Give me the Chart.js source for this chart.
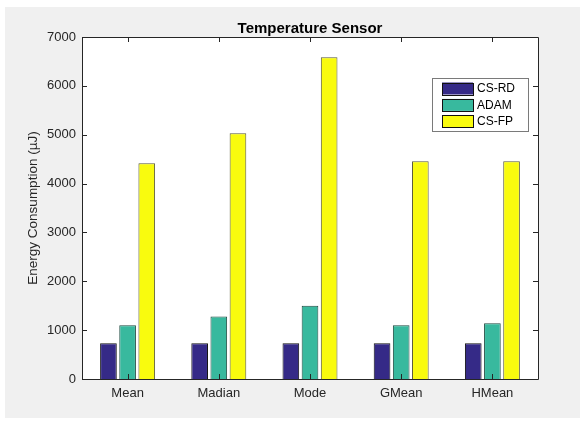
<!DOCTYPE html>
<html>
<head>
<meta charset="utf-8">
<script src="https://cdn.jsdelivr.net/npm/chart.js@4.4.1/dist/chart.umd.min.js"></script>
<style>
  html, body { margin: 0; padding: 0; background: #fff; }
  #wrap { position: relative; width: 585px; height: 421px; }
</style>
</head>
<body>
<div id="wrap"><canvas id="myChart" width="585" height="421"></canvas></div>
<script>
// values
const categories = ['Mean', 'Madian', 'Mode', 'GMean', 'HMean'];
const seriesNames = ['CS-RD', 'ADAM', 'CS-FP'];
const csRd = [730, 730, 730, 730, 730];
const adam = [1100, 1280, 1500, 1100, 1140];
const csFp = [4415, 5030, 6585, 4455, 4455];
const yTicks = [0, 1000, 2000, 3000, 4000, 5000, 6000, 7000];

const colors = ['#352a87', '#38b99e', '#f9fb0e'];
const edges = ['#111', '#1d4a40', '#5a5a3a'];
const textColor = '#262626';
const fontFamily = '"Liberation Sans", Arial, sans-serif';

// grey figure background, title, matlab style box with inward ticks, legend
const matlabLook = {
    id: 'matlabLook',
    beforeDraw(chart) {
        const c = chart.ctx;
        c.save();
        c.fillStyle = '#fff';
        c.fillRect(0, 0, chart.width, chart.height);
        c.fillStyle = '#f0f0f0';
        c.fillRect(5, 7, 575, 411);
        const a = chart.chartArea;
        c.fillStyle = '#fff';
        c.fillRect(a.left, a.top, a.right - a.left, a.bottom - a.top);
        c.restore();
    },
    afterDatasetsDraw(chart) {
        const c = chart.ctx;
        const a = chart.chartArea;
        const x = chart.scales.x, y = chart.scales.y;
        c.save();
        c.strokeStyle = '#262626';
        c.lineWidth = 1;
        c.beginPath();
        c.rect(Math.round(a.left) + 0.5, Math.round(a.top) + 0.5,
               Math.round(a.right - a.left), Math.round(a.bottom - a.top));
        yTicks.forEach(v => {
            const py = Math.round(y.getPixelForValue(v)) + 0.5;
            c.moveTo(a.left, py); c.lineTo(a.left + 5, py);
            c.moveTo(a.right, py); c.lineTo(a.right - 5, py);
        });
        categories.forEach((cat, i) => {
            const px = Math.round(x.getPixelForValue(i)) + 0.5;
            c.moveTo(px, a.bottom); c.lineTo(px, a.bottom - 5);
            c.moveTo(px, a.top); c.lineTo(px, a.top + 5);
        });
        c.stroke();

        // title
        c.fillStyle = '#000';
        c.font = 'bold 15px ' + fontFamily;
        c.textAlign = 'center';
        c.textBaseline = 'alphabetic';
        c.fillText('Temperature Sensor', (a.left + a.right) / 2, 33);

        // legend box
        const lx = 432, ly = 78, lw = 96, lh = 53;
        c.fillStyle = '#fff';
        c.fillRect(lx, ly, lw, lh);
        c.strokeStyle = '#7a7a7a';
        c.strokeRect(lx + 0.5, ly + 0.5, lw, lh);
        c.font = '12px ' + fontFamily;
        c.textAlign = 'left';
        c.textBaseline = 'middle';
        seriesNames.forEach((name, i) => {
            const cy = 88.5 + i * 16.4;
            c.fillStyle = colors[i];
            c.fillRect(442, cy - 6, 31, 12);
            c.strokeStyle = '#111';
            c.strokeRect(442.5, Math.round(cy - 6) + 0.5, 31, 12);
            c.fillStyle = '#000';
            c.fillText(name, 477, cy + 0.5);
        });
        c.restore();
    }
};

const ctx = document.getElementById('myChart').getContext('2d');
const myChart = new Chart(ctx, {
    type: 'bar',
    data: {
        labels: categories,
        datasets: [csRd, adam, csFp].map((d, i) => ({
            label: seriesNames[i],
            data: d,
            backgroundColor: colors[i],
            borderColor: edges[i],
            borderWidth: 1,
            borderSkipped: 'bottom',
            categoryPercentage: 0.63,
            barPercentage: 0.87
        }))
    },
    options: {
        responsive: false,
        animation: false,
        layout: { padding: { left: 0, right: 47, top: 37, bottom: 0 } },
        plugins: {
            legend: { display: false },
            tooltip: { enabled: false },
            title: { display: false }
        },
        scales: {
            x: {
                grid: { display: false, drawTicks: false },
                border: { display: false },
                ticks: {
                    color: textColor,
                    font: { family: fontFamily, size: 13 },
                    padding: 7
                },
                afterFit: s => { s.height = 42; }
            },
            y: {
                min: 0,
                max: 7000,
                afterBuildTicks: s => { s.ticks = yTicks.map(v => ({ value: v })); },
                grid: { display: false, drawTicks: false },
                border: { display: false },
                ticks: {
                    color: textColor,
                    font: { family: fontFamily, size: 13 },
                    padding: 6,
                    callback: v => String(v)
                },
                title: {
                    display: true,
                    text: 'Energy Consumption (µJ)',
                    color: textColor,
                    font: { family: fontFamily, size: 13.5 },
                    padding: { top: 25, bottom: 0 }
                },
                afterFit: s => { s.width = 82; }
            }
        }
    },
    plugins: [matlabLook]
});
</script>
</body>
</html>
